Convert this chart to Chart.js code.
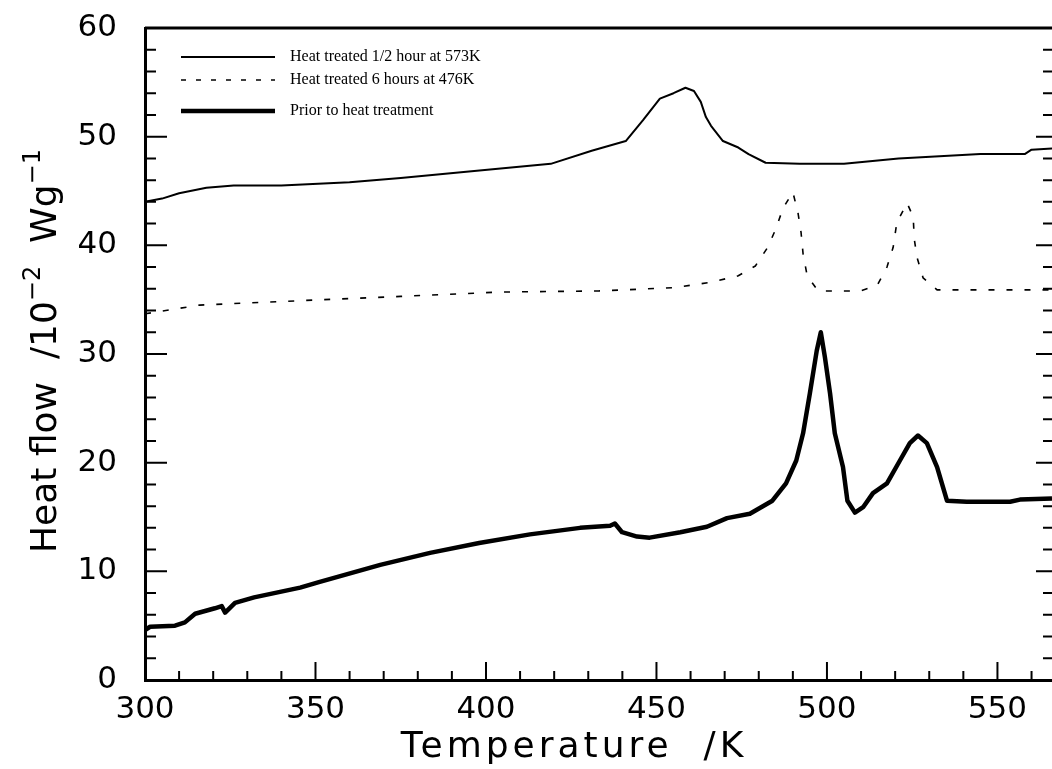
<!DOCTYPE html>
<html>
<head>
<meta charset="utf-8">
<script src="https://cdn.jsdelivr.net/npm/chart.js@4.4.1/dist/chart.umd.min.js"></script>
<style>
  html, body { margin: 0; padding: 0; background: #fff; }
  #wrap { width: 1052px; height: 769px; }
</style>
</head>
<body>
<div id="wrap"><canvas id="myChart" width="1052" height="769"></canvas></div>
<script>
// series labels
const seriesLabels = ['Heat treated 1/2 hour at 573K', 'Heat treated 6 hours at 476K', 'Prior to heat treatment'];
const xTitle = 'Temperature  /K';
// y title pieces: [text, superscript?]
const yTitleParts = [['Heat flow  /10', false], ['\u22122', true], ['  Wg', false], ['\u22121', true]];

// heat treated 1/2 hour at 573K
const tempA = [300, 305, 310, 318, 326, 340, 360, 375, 395, 419, 431, 441, 446, 451, 455, 458.5, 461, 463, 464.5, 466, 469.5, 474, 477, 482, 492, 505, 521, 545, 558, 560, 566];
const flowA = [44.0, 44.3, 44.8, 45.3, 45.5, 45.5, 45.8, 46.2, 46.8, 47.5, 48.7, 49.6, 51.5, 53.5, 54.0, 54.5, 54.2, 53.2, 51.8, 51.0, 49.6, 49.0, 48.4, 47.6, 47.5, 47.5, 48.0, 48.4, 48.4, 48.8, 48.9];

// heat treated 6 hours at 476K
const tempB = [300, 316, 345, 375, 404, 433, 455, 466, 474, 479, 482.6, 485, 487.1, 490, 491.5, 492.4, 493, 494.2, 497.4, 509.7, 514.7, 517.6, 519.4, 520.5, 523.5, 525.3, 525.6, 526.4, 528.2, 532.3, 566];
const flowB = [33.7, 34.5, 34.9, 35.3, 35.7, 35.8, 36.1, 36.6, 37.2, 38.1, 39.8, 41.5, 43.4, 44.9, 43.0, 41.2, 39.2, 37.2, 35.8, 35.8, 36.3, 38.0, 39.8, 42.1, 43.9, 42.6, 40.6, 38.9, 37.0, 35.9, 35.9];

// prior to heat treatment
const tempC = [300, 301.5, 308.8, 311.7, 314.7, 320.5, 322.5, 323.5, 326.4, 332, 345.5, 351, 369, 383.6, 398, 412.9, 427.6, 436.4, 437.8, 439.9, 444.3, 448, 457, 464.8, 470.7, 477.4, 484, 488, 491, 493, 495, 497, 498.2, 499.4, 500.9, 502.3, 504.7, 506, 508.2, 510.6, 513.5, 517.6, 521.4, 524.3, 526.7, 529.3, 532.3, 535.2, 541, 553.7, 556.6, 566];
const flowC = [4.6, 4.9, 5.0, 5.3, 6.1, 6.6, 6.8, 6.2, 7.1, 7.6, 8.5, 9.0, 10.6, 11.7, 12.6, 13.4, 14.0, 14.2, 14.4, 13.6, 13.2, 13.1, 13.6, 14.1, 14.9, 15.3, 16.5, 18.1, 20.2, 22.7, 26.4, 30.3, 32.0, 29.7, 26.4, 22.7, 19.6, 16.5, 15.4, 15.9, 17.2, 18.1, 20.2, 21.8, 22.5, 21.8, 19.6, 16.5, 16.4, 16.4, 16.6, 16.7];

const xMin = 300, xMax = 566, xStep = 50, xMinor = 10;
const yMin = 0, yMax = 60, yStep = 10, yMinor = 2;

function toPoints(xs, ys) {
    return xs.map((x, i) => { return { x: x, y: ys[i] } })
}

const lineWidths = [2, 1.6, 4.5];
const lineDashes = [[], [6, 12], []];
const fontFamily = '"DejaVu Sans", sans-serif';

// inward ticks, top border, right ticks, axis titles and the legend
const framePlugin = {
    id: 'frame',
    afterDraw(chart) {
        const ctx = chart.ctx;
        const a = chart.chartArea;
        const xs = chart.scales.x;
        const ys = chart.scales.y;
        ctx.save();
        ctx.strokeStyle = '#000';
        ctx.fillStyle = '#000';
        ctx.lineCap = 'butt';
        // top border
        ctx.lineWidth = 3;
        ctx.beginPath();
        ctx.moveTo(a.left, a.top);
        ctx.lineTo(a.right, a.top);
        ctx.stroke();
        ctx.lineWidth = 2;
        // x ticks
        for (let v = xMin; v <= xMax; v += xMinor) {
            const px = xs.getPixelForValue(v);
            const len = (v % xStep === 0) ? 18 : 9;
            ctx.beginPath();
            ctx.moveTo(px, a.bottom);
            ctx.lineTo(px, a.bottom - len);
            ctx.stroke();
        }
        // y ticks, left and right
        for (let v = yMin; v <= yMax; v += yMinor) {
            const py = ys.getPixelForValue(v);
            const major = v % yStep === 0;
            ctx.beginPath();
            ctx.moveTo(a.left, py);
            ctx.lineTo(a.left + (major ? 22 : 11), py);
            ctx.moveTo(a.right, py);
            ctx.lineTo(a.right - (major ? 16 : 9), py);
            ctx.stroke();
        }

        // x title
        ctx.font = '36px ' + fontFamily;
        ctx.letterSpacing = '4px';
        ctx.textAlign = 'center';
        ctx.textBaseline = 'alphabetic';
        ctx.fillText(xTitle, 574, 757);
        ctx.letterSpacing = '0px';

        // y title with superscripts
        ctx.save();
        ctx.translate(56, 351);
        ctx.rotate(-Math.PI / 2);
        ctx.textAlign = 'left';
        let total = 0;
        yTitleParts.forEach(([t, sup]) => {
            ctx.font = (sup ? '24px ' : '36px ') + fontFamily;
            total += ctx.measureText(t).width;
        });
        let cx = -total / 2;
        yTitleParts.forEach(([t, sup]) => {
            ctx.font = (sup ? '24px ' : '36px ') + fontFamily;
            ctx.fillText(t, cx, sup ? -16 : 0);
            cx += ctx.measureText(t).width;
        });
        ctx.restore();

        // legend
        ctx.font = '16px "Liberation Serif", serif';
        ctx.textAlign = 'left';
        ctx.textBaseline = 'middle';
        const rows = [57, 80, 111];
        chart.data.datasets.forEach((ds, i) => {
            ctx.lineWidth = lineWidths[i];
            ctx.setLineDash(lineDashes[i].length ? [5, 10] : []);
            ctx.beginPath();
            ctx.moveTo(181, rows[i]);
            ctx.lineTo(275, rows[i]);
            ctx.stroke();
            ctx.setLineDash([]);
            ctx.fillText(ds.label, 290, rows[i]);
        });
        ctx.restore();
    }
};

const data = {
    datasets: [{
        label: seriesLabels[0],
        data: toPoints(tempA, flowA),
        borderColor: '#000',
        borderWidth: lineWidths[0],
        borderDash: lineDashes[0]
    },
    {
        label: seriesLabels[1],
        data: toPoints(tempB, flowB),
        borderColor: '#000',
        borderWidth: lineWidths[1],
        borderDash: lineDashes[1]
    },
    {
        label: seriesLabels[2],
        data: toPoints(tempC, flowC),
        borderColor: '#000',
        borderWidth: lineWidths[2],
        borderDash: lineDashes[2]
    }]
};

const tickFont = { family: fontFamily, size: 31, weight: 'normal' };

const config = {
    type: 'scatter',
    data: data,
    options: {
        responsive: false,
        animation: false,
        showLine: true,
        pointRadius: 0,
        borderJoinStyle: 'round',
        layout: { padding: { left: 0, right: 0, top: 28, bottom: 0 } },
        plugins: {
            legend: { display: false },
            tooltip: { enabled: false }
        },
        scales: {
            x: {
                type: 'linear',
                position: 'bottom',
                min: xMin,
                max: xMax,
                afterFit: (s) => { s.height = 89; s.paddingLeft = 0; s.paddingRight = 0 },
                grid: { display: false },
                border: { display: true, color: '#000', width: 3 },
                ticks: { stepSize: xStep, includeBounds: false, color: '#000', font: tickFont, padding: 3, maxRotation: 0 }
            },
            y: {
                type: 'linear',
                min: yMin,
                max: yMax,
                afterFit: (s) => { s.width = 145; s.paddingTop = 0; s.paddingBottom = 0 },
                grid: { display: false },
                border: { display: true, color: '#000', width: 3 },
                ticks: { stepSize: yStep, color: '#000', font: tickFont, padding: 20 }
            }
        }
    },
    plugins: [framePlugin]
};

const myChart = new Chart(document.getElementById('myChart'), config);
</script>
</body>
</html>
